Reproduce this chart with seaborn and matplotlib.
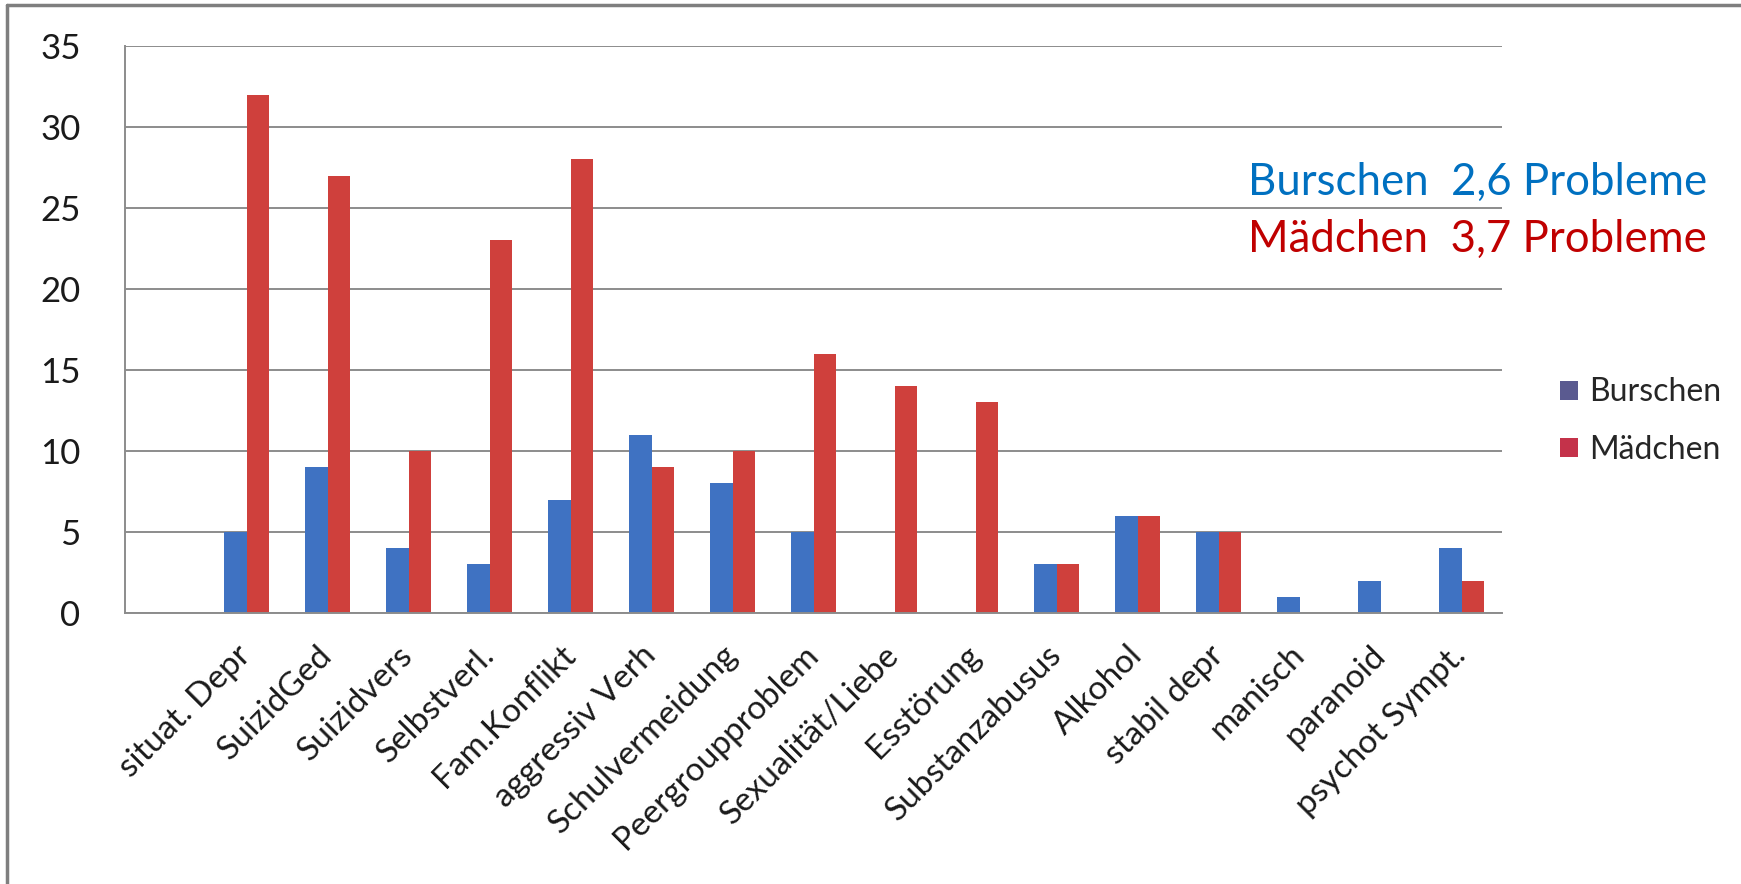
import matplotlib
matplotlib.use("Agg")
import matplotlib.pyplot as plt
import seaborn as sns
import pandas as pd
from matplotlib.patches import Patch
from matplotlib.lines import Line2D
from matplotlib.ticker import FixedLocator

# ---------------- data ----------------
categories = ["", "situat. Depr", "SuizidGed", "Suizidvers", "Selbstverl.", "Fam.Konflikt",
              "aggressiv Verh", "Schulvermeidung", "Peergroupproblem", "Sexualität/Liebe",
              "Esstörung", "Substanzabusus", "Alkohol", "stabil depr", "manisch",
              "paranoid", "psychot Sympt."]
burschen = [5, 9, 4, 3, 7, 11, 8, 5, 0, 0, 3, 6, 5, 1, 2, 4]
maedchen = [32, 27, 10, 23, 28, 9, 10, 16, 14, 13, 3, 6, 5, 0, 0, 2]
series_names = ["Burschen", "Mädchen"]
note_lines = ["Burschen  2,6 Probleme", "Mädchen  3,7 Probleme"]
yticks = [0, 5, 10, 15, 20, 25, 30, 35]

rows = []
for cat, b, m in zip(categories[1:], burschen, maedchen):
    rows.append({"cat": cat, "Geschlecht": series_names[0], "n": b})
    rows.append({"cat": cat, "Geschlecht": series_names[1], "n": m})
df = pd.DataFrame(rows)

# ---------------- style ----------------
sns.set_style("white")
plt.rcParams["font.family"] = ["Lato", "DejaVu Sans"]

W, H = 1741, 884
fig = plt.figure(figsize=(W / 100, H / 100), dpi=100)
ax_left, ax_right, ax_top, ax_bottom = 125, 1502, 46, 613
ax = fig.add_axes([ax_left / W, 1 - ax_bottom / H, (ax_right - ax_left) / W, (ax_bottom - ax_top) / H])

blue = "#3F72C2"
red = "#CF403C"

sns.barplot(data=df, x="cat", y="n", hue="Geschlecht", order=categories,
            hue_order=series_names, palette=[blue, red], width=0.556,
            saturation=1, errorbar=None, ax=ax, legend=False, linewidth=0)

ax.set_xlim(-0.5, len(categories) - 0.5)
ax.set_ylim(0, 35)
ax.set_yticks(yticks)
ax.set_xlabel("")
ax.set_ylabel("")

grid_col = "#8C8C8C"
ax.yaxis.grid(True, color=grid_col, linewidth=1.4)
ax.set_axisbelow(True)
for s in ["top", "right"]:
    ax.spines[s].set_visible(False)
for s in ["left", "bottom"]:
    ax.spines[s].set_color(grid_col)
    ax.spines[s].set_linewidth(1.4)

ax.tick_params(axis="y", length=9, width=1.4, color=grid_col, pad=23,
               labelsize=25, labelcolor="#1a1a1a")
ax.tick_params(axis="x", which="major", length=0, pad=27, labelsize=24, labelcolor="#1a1a1a")
ax.xaxis.set_minor_locator(FixedLocator([i + 0.5 for i in range(len(categories) - 1)]))
ax.tick_params(axis="x", which="minor", length=7, width=1.4, color=grid_col, direction="out")
for lab in ax.get_xticklabels():
    lab.set_rotation(45)
    lab.set_ha("right")
    lab.set_va("center")
    lab.set_rotation_mode("anchor")

# legend
handles = [Patch(facecolor="#5A5A90", edgecolor="none"),
           Patch(facecolor="#C4324A", edgecolor="none")]
fig.legend(handles, series_names, loc="center left",
           bbox_to_anchor=(1560 / W, 1 - 421 / H), frameon=False,
           fontsize=23, handlelength=0.55, handleheight=0.55, handletextpad=0.35,
           labelspacing=0.85, borderpad=0, borderaxespad=0)

# annotation
fig.text(1248 / W, 1 - 195 / H, note_lines[0], color="#0070C0", fontsize=31.5, va="baseline", ha="left")
fig.text(1248 / W, 1 - 252 / H, note_lines[1], color="#C00000", fontsize=31.5, va="baseline", ha="left")

# outer frame (top and left visible)
fig.add_artist(Line2D([7 / W, 7 / W], [0, 1 - 5 / H], transform=fig.transFigure, color="#7F7F7F", lw=2.5))
fig.add_artist(Line2D([7 / W, 1], [1 - 5 / H, 1 - 5 / H], transform=fig.transFigure, color="#7F7F7F", lw=2.5))

fig.savefig("out.png", dpi=100)
